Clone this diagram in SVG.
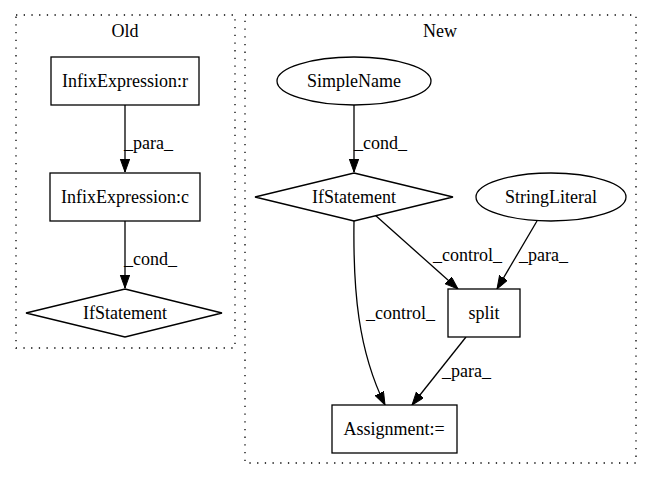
<svg xmlns="http://www.w3.org/2000/svg" width="652" height="480" viewBox="0 0 652 480">
<style>
text{font-family:"Liberation Serif","Times New Roman",serif;font-size:18px;fill:#000;text-anchor:middle}
.cl{fill:none;stroke:#000;stroke-width:1.3;stroke-dasharray:1.3,6.4}
.n{fill:#fff;stroke:#000;stroke-width:1.3}
.e{fill:none;stroke:#000;stroke-width:1.3;marker-end:url(#ah)}
.lb{text-anchor:start}
</style>
<defs>
<marker id="ah" markerUnits="userSpaceOnUse" markerWidth="14" markerHeight="11" refX="13" refY="4.7" orient="auto">
<path d="M0,0 L13,4.7 L0,9.4 z" fill="#000" stroke="#000" stroke-width="1"/>
</marker>
</defs>
<rect width="652" height="480" fill="#fff"/>
<g id="cluster_old">
<rect class="cl" x="16" y="15" width="219" height="333"/>
<text x="125" y="37">Old</text>
</g>
<g id="cluster_new">
<rect class="cl" x="245" y="15" width="391" height="448"/>
<text x="440" y="37">New</text>
</g>
<g id="edges">
<path class="e" d="M125,105 L125,172"/>
<text class="lb" x="124" y="149">_para_</text>
<path class="e" d="M125,221 L125,288"/>
<text class="lb" x="124" y="265">_cond_</text>
<path class="e" d="M354,105 L354,172"/>
<text class="lb" x="354" y="149">_cond_</text>
<path class="e" d="M375,215 L458,289"/>
<text class="lb" x="433" y="261">_control_</text>
<path class="e" d="M537,221 L497,289"/>
<text class="lb" x="519" y="261">_para_</text>
<path class="e" d="M354,221 C353,290 358,350 385,405"/>
<text class="lb" x="366" y="319">_control_</text>
<path class="e" d="M466,337 L412,405"/>
<text class="lb" x="442" y="377">_para_</text>
</g>
<g id="old_infix_r">
<rect class="n" x="51" y="57" width="148" height="48"/>
<text x="125" y="87">InfixExpression:r</text>
</g>
<g id="old_infix_c">
<rect class="n" x="50" y="173" width="150" height="48"/>
<text x="125" y="203">InfixExpression:c</text>
</g>
<g id="old_if">
<polygon class="n" points="125,289 222,313 125,337 26,313"/>
<text x="125" y="319">IfStatement</text>
</g>
<g id="new_simplename">
<ellipse class="n" cx="354" cy="81" rx="77" ry="24"/>
<text x="354" y="87">SimpleName</text>
</g>
<g id="new_if">
<polygon class="n" points="354,173 453,197 354,221 255,197"/>
<text x="354" y="203">IfStatement</text>
</g>
<g id="new_stringliteral">
<ellipse class="n" cx="551" cy="197" rx="75" ry="24"/>
<text x="551" y="203">StringLiteral</text>
</g>
<g id="new_split">
<rect class="n" x="448" y="289" width="72" height="48"/>
<text x="484" y="319">split</text>
</g>
<g id="new_assignment">
<rect class="n" x="332" y="405" width="125" height="48"/>
<text x="394" y="435">Assignment:=</text>
</g>
</svg>
